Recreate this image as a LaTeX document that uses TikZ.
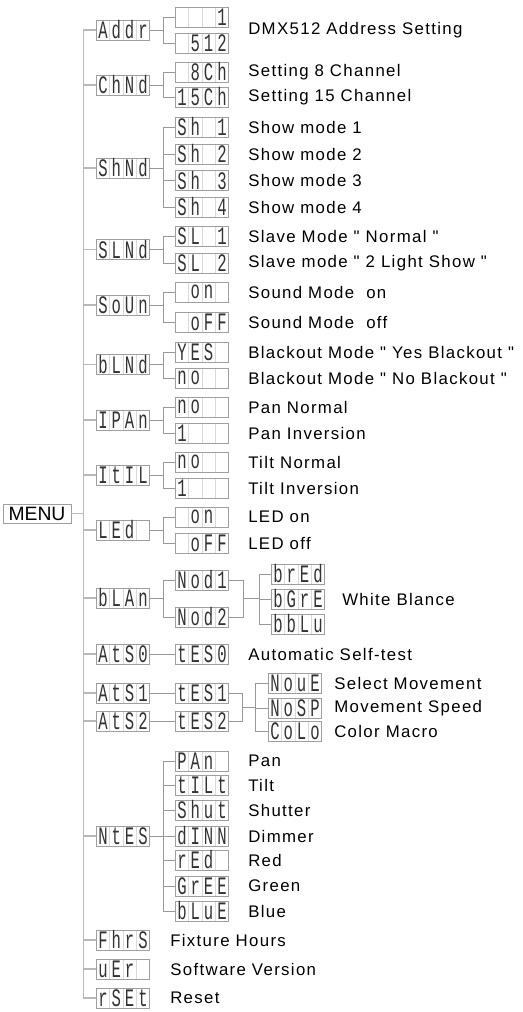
\documentclass[tikz,border=0pt]{standalone}
\usepackage{graphicx}
\usepackage{fontspec}
\setmainfont{Liberation Sans}
\newfontfamily\labelfont{Liberation Sans}[LetterSpace=8]
\newfontfamily\segfont{Liberation Mono}
\usetikzlibrary{calc}

\newcommand{\segcell}[1]{\makebox[10pt]{\scalebox{0.9}[1.45]{#1}}}
\newcommand{\cells}[4]{\segcell{#1}\segcell{#2}\segcell{#3}\segcell{#4}}

\begin{document}
\begin{tikzpicture}
[x=0.75pt,y=-0.75pt,
disp/.style={draw=gray!75,line width=0.5pt,inner sep=0pt,minimum width=40pt,minimum height=15pt,
  font=\segfont\fontsize{13pt}{13pt}\selectfont,text=black!80,
  path picture={\foreach \k in {1,2,3}
    \draw[gray!30,line width=0.4pt] ([xshift=\k*10pt]path picture bounding box.south west) -- ([xshift=\k*10pt]path picture bounding box.north west);}},
desc/.style={anchor=west,inner sep=0pt,font=\labelfont\fontsize{12.6pt}{14pt}\selectfont},
wire/.style={draw=gray!80,line width=0.6pt},
spine/.style={draw=gray!55,line width=1pt}]
\useasboundingbox (0,0) rectangle (523,1012);

\node[draw=gray!75,line width=0.5pt,minimum width=51pt,minimum height=14.25pt,inner sep=0pt,
  font=\fontsize{14.5pt}{15pt}\selectfont] (menu) at (37,513.5) {MENU};

% first level
\node[disp] (addr) at (123,30) {\cells{A}{d}{d}{r}};
\node[disp] (chnd) at (123,85) {\cells{C}{h}{N}{d}};
\node[disp] (shnd) at (123,168) {\cells{S}{h}{N}{d}};
\node[disp] (slnd) at (123,249.5) {\cells{S}{L}{N}{d}};
\node[disp] (soun) at (123,305) {\cells{S}{o}{U}{n}};
\node[disp] (blnd) at (123,364.5) {\cells{b}{L}{N}{d}};
\node[disp] (ipan) at (123,420) {\cells{I}{P}{A}{n}};
\node[disp] (itil) at (123,475) {\cells{I}{t}{I}{L}};
\node[disp] (led) at (123,530) {\cells{L}{E}{d}{}};
\node[disp] (blan) at (123,598) {\cells{b}{L}{A}{n}};
\node[disp] (ats0) at (123,654) {\cells{A}{t}{S}{0}};
\node[disp] (ats1) at (123,693) {\cells{A}{t}{S}{1}};
\node[disp] (ats2) at (123,721) {\cells{A}{t}{S}{2}};
\node[disp] (ntes) at (123,836) {\cells{N}{t}{E}{S}};
\node[disp] (fhrs) at (123,940) {\cells{F}{h}{r}{S}};
\node[disp] (uer) at (123,969) {\cells{u}{E}{r}{}};
\node[disp] (rset) at (123,998) {\cells{r}{S}{E}{t}};

% second level
\node[disp] (addrone) at (202,17) {\cells{}{}{}{1}};
\node[disp] (addrmax) at (202,43) {\cells{}{5}{1}{2}};
\node[disp] (ch8) at (202,72) {\cells{}{8}{C}{h}};
\node[disp] (ch15) at (202,97) {\cells{1}{5}{C}{h}};
\node[disp] (sh1) at (202,127) {\cells{S}{h}{}{1}};
\node[disp] (sh2) at (202,154) {\cells{S}{h}{}{2}};
\node[disp] (sh3) at (202,180.5) {\cells{S}{h}{}{3}};
\node[disp] (sh4) at (202,207) {\cells{S}{h}{}{4}};
\node[disp] (sl1) at (202,236) {\cells{S}{L}{}{1}};
\node[disp] (sl2) at (202,263) {\cells{S}{L}{}{2}};
\node[disp] (soundon) at (202,292) {\cells{}{o}{n}{}};
\node[disp] (soundoff) at (202,322) {\cells{}{o}{F}{F}};
\node[disp] (blyes) at (202,352) {\cells{Y}{E}{S}{}};
\node[disp] (blno) at (202,378) {\cells{n}{o}{}{}};
\node[disp] (panno) at (202,407) {\cells{n}{o}{}{}};
\node[disp] (panone) at (202,433) {\cells{1}{}{}{}};
\node[disp] (tiltno) at (202,462) {\cells{n}{o}{}{}};
\node[disp] (tiltone) at (202,488) {\cells{1}{}{}{}};
\node[disp] (ledon) at (202,517) {\cells{}{o}{n}{}};
\node[disp] (ledoff) at (202,543) {\cells{}{o}{F}{F}};
\node[disp] (nod1) at (202,580) {\cells{N}{o}{d}{1}};
\node[disp] (nod2) at (202,617) {\cells{N}{o}{d}{2}};
\node[disp] (tes0) at (202,654) {\cells{t}{E}{S}{0}};
\node[disp] (tes1) at (202,693) {\cells{t}{E}{S}{1}};
\node[disp] (tes2) at (202,721) {\cells{t}{E}{S}{2}};
\node[disp] (pan) at (202,761) {\cells{P}{A}{n}{}};
\node[disp] (tilt) at (202,785) {\cells{t}{I}{L}{t}};
\node[disp] (shut) at (202,810) {\cells{S}{h}{u}{t}};
\node[disp] (dimm) at (202,836) {\cells{d}{I}{N}{N}};
\node[disp] (red) at (202,860) {\cells{r}{E}{d}{}};
\node[disp] (gree) at (202,886) {\cells{G}{r}{E}{E}};
\node[disp] (blue) at (202,911) {\cells{b}{L}{u}{E}};

% third level
\node[disp] (bred) at (298,574) {\cells{b}{r}{E}{d}};
\node[disp] (bgre) at (298,599) {\cells{b}{G}{r}{E}};
\node[disp] (bblu) at (298,624) {\cells{b}{b}{L}{u}};
\node[disp] (noue) at (295,683) {\cells{N}{o}{u}{E}};
\node[disp] (nosp) at (295,708) {\cells{N}{o}{S}{P}};
\node[disp] (colo) at (295,731) {\cells{C}{o}{L}{o}};

% descriptions
\node[desc] (addrtext) at (248,30) {DMX512 Address Setting};
\node[desc] (ch8text) at (248,72) {Setting 8 Channel};
\node[desc] (ch15text) at (248,97) {Setting 15 Channel};
\node[desc] (sh1text) at (248,127) {Show mode 1};
\node[desc] (sh2text) at (248,154) {Show mode 2};
\node[desc] (sh3text) at (248,180.5) {Show mode 3};
\node[desc] (sh4text) at (248,207) {Show mode 4};
\node[desc] (sl1text) at (248,236) {Slave Mode " Normal "};
\node[desc] (sl2text) at (248,263) {Slave mode " 2 Light Show "};
\node[desc] (soundontext) at (248,292) {Sound Mode~ on};
\node[desc] (soundofftext) at (248,322) {Sound Mode~ off};
\node[desc] (blyestext) at (248,352) {Blackout Mode " Yes Blackout "};
\node[desc] (blnotext) at (248,378) {Blackout Mode " No Blackout "};
\node[desc] (pannotext) at (248,407) {Pan Normal};
\node[desc] (panonetext) at (248,433) {Pan Inversion};
\node[desc] (tiltnotext) at (248,462) {Tilt Normal};
\node[desc] (tiltonetext) at (248,488) {Tilt Inversion};
\node[desc] (ledontext) at (248,517) {LED on};
\node[desc] (ledofftext) at (248,543) {LED off};
\node[desc] (whitetext) at (342,599) {White Blance};
\node[desc] (tes0text) at (248,654) {Automatic Self-test};
\node[desc] (nouetext) at (334,683) {Select Movement};
\node[desc] (nosptext) at (334,708) {Movement Speed};
\node[desc] (colotext) at (334,731) {Color Macro};
\node[desc] (pantext) at (248,761) {Pan};
\node[desc] (tilttext) at (248,785) {Tilt};
\node[desc] (shuttext) at (248,810) {Shutter};
\node[desc] (dimmtext) at (248,836) {Dimmer};
\node[desc] (redtext) at (248,860) {Red};
\node[desc] (greetext) at (248,886) {Green};
\node[desc] (bluetext) at (248,911) {Blue};
\node[desc] (fhrstext) at (170,940) {Fixture Hours};
\node[desc] (uertext) at (170,969) {Software Version};
\node[desc] (rsettext) at (170,998) {Reset};

% menu to first level
\draw[spine] (menu.east) -- ++(12,0) |- (addr.west);
\draw[spine] (menu.east) -- ++(12,0) |- (chnd.west);
\draw[spine] (menu.east) -- ++(12,0) |- (shnd.west);
\draw[spine] (menu.east) -- ++(12,0) |- (slnd.west);
\draw[spine] (menu.east) -- ++(12,0) |- (soun.west);
\draw[spine] (menu.east) -- ++(12,0) |- (blnd.west);
\draw[spine] (menu.east) -- ++(12,0) |- (ipan.west);
\draw[spine] (menu.east) -- ++(12,0) |- (itil.west);
\draw[spine] (menu.east) -- ++(12,0) |- (led.west);
\draw[spine] (menu.east) -- ++(12,0) |- (blan.west);
\draw[spine] (menu.east) -- ++(12,0) |- (ats0.west);
\draw[spine] (menu.east) -- ++(12,0) |- (ats1.west);
\draw[spine] (menu.east) -- ++(12,0) |- (ats2.west);
\draw[spine] (menu.east) -- ++(12,0) |- (ntes.west);
\draw[spine] (menu.east) -- ++(12,0) |- (fhrs.west);
\draw[spine] (menu.east) -- ++(12,0) |- (uer.west);
\draw[spine] (menu.east) -- ++(12,0) |- (rset.west);

% first level to second level
\draw[wire] (addr.east) -- ++(13,0) |- (addrone.west);
\draw[wire] (addr.east) -- ++(13,0) |- (addrmax.west);
\draw[wire] (chnd.east) -- ++(13,0) |- (ch8.west);
\draw[wire] (chnd.east) -- ++(13,0) |- (ch15.west);
\draw[wire] (shnd.east) -- ++(13,0) |- (sh1.west);
\draw[wire] (shnd.east) -- ++(13,0) |- (sh2.west);
\draw[wire] (shnd.east) -- ++(13,0) |- (sh3.west);
\draw[wire] (shnd.east) -- ++(13,0) |- (sh4.west);
\draw[wire] (slnd.east) -- ++(13,0) |- (sl1.west);
\draw[wire] (slnd.east) -- ++(13,0) |- (sl2.west);
\draw[wire] (soun.east) -- ++(13,0) |- (soundon.west);
\draw[wire] (soun.east) -- ++(13,0) |- (soundoff.west);
\draw[wire] (blnd.east) -- ++(13,0) |- (blyes.west);
\draw[wire] (blnd.east) -- ++(13,0) |- (blno.west);
\draw[wire] (ipan.east) -- ++(13,0) |- (panno.west);
\draw[wire] (ipan.east) -- ++(13,0) |- (panone.west);
\draw[wire] (itil.east) -- ++(13,0) |- (tiltno.west);
\draw[wire] (itil.east) -- ++(13,0) |- (tiltone.west);
\draw[wire] (led.east) -- ++(13,0) |- (ledon.west);
\draw[wire] (led.east) -- ++(13,0) |- (ledoff.west);
\draw[wire] (blan.east) -- ++(13,0) |- (nod1.west);
\draw[wire] (blan.east) -- ++(13,0) |- (nod2.west);
\draw[wire] (ats0) -- (tes0);
\draw[wire] (ats1) -- (tes1);
\draw[wire] (ats2) -- (tes2);
\draw[wire] (ntes.east) -- ++(13,0) |- (pan.west);
\draw[wire] (ntes.east) -- ++(13,0) |- (tilt.west);
\draw[wire] (ntes.east) -- ++(13,0) |- (shut.west);
\draw[wire] (ntes.east) -- ++(13,0) |- (dimm.west);
\draw[wire] (ntes.east) -- ++(13,0) |- (red.west);
\draw[wire] (ntes.east) -- ++(13,0) |- (gree.west);
\draw[wire] (ntes.east) -- ++(13,0) |- (blue.west);

% second level to third level
\coordinate (wbjoin) at (243,598.5);
\draw[wire] (nod1.east) -| (wbjoin);
\draw[wire] (nod2.east) -| (wbjoin);
\draw[wire] (wbjoin) -- ++(16,0) |- (bred.west);
\draw[wire] (wbjoin) -- ++(16,0) |- (bgre.west);
\draw[wire] (wbjoin) -- ++(16,0) |- (bblu.west);
\coordinate (tesjoin) at (242,707);
\draw[wire] (tes1.east) -| (tesjoin);
\draw[wire] (tes2.east) -| (tesjoin);
\draw[wire] (tesjoin) -- ++(13,0) |- (noue.west);
\draw[wire] (tesjoin) -- ++(13,0) |- (nosp.west);
\draw[wire] (tesjoin) -- ++(13,0) |- (colo.west);
\end{tikzpicture}
\end{document}
